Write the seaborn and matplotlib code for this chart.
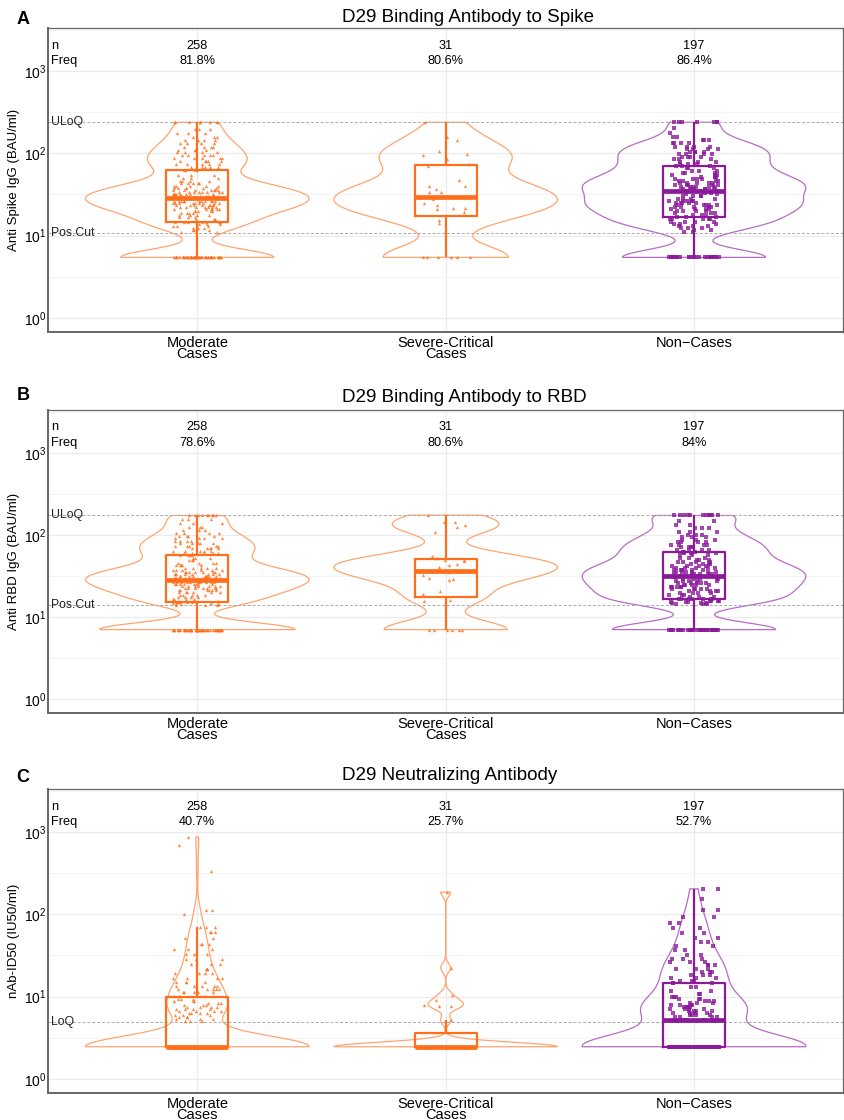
import numpy as np
import pandas as pd
import matplotlib
matplotlib.use("Agg")
import matplotlib.pyplot as plt
import seaborn as sns

# categories shared by all three panels
groups = ["Moderate\nCases", "Severe-Critical\nCases", "Non\u2212Cases"]
n_text = ["258", "31", "197"]

spike_mod_lv = [0.734, 1.045, 1.07, 1.095, 1.12, 1.14, 1.16, 1.17, 1.195, 1.22, 1.245, 1.27, 1.295,
                1.32, 1.345, 1.37, 1.395, 1.425, 1.455, 1.48, 1.505, 1.53, 1.555, 1.58, 1.605, 1.635,
                1.665, 1.70, 1.74, 1.80, 1.835, 1.87, 1.905, 1.94, 1.975, 2.01, 2.045, 2.08, 2.12,
                2.16, 2.20, 2.25, 2.30, 2.377]
spike_mod_ct = [47, 2, 3, 3, 3, 3, 3, 4, 3, 3, 4, 4, 5, 6, 7, 8, 9, 11, 4, 10, 9, 8, 7, 6, 5, 5,
                4, 3, 3, 4, 5, 5, 5, 5, 5, 4, 4, 4, 4, 4, 3, 3, 3, 8]
spike_sev = [0.734] * 6 + [1.151, 1.192, 1.289, 1.321, 1.330, 1.333, 1.375, 1.399, 1.45, 1.47, 1.524,
                           1.533, 1.569, 1.597, 1.606, 1.679, 1.844, 1.873, 1.934, 1.983, 1.995, 2.027,
                           2.157, 2.197, 2.377]
spike_non_lv = [0.734, 1.045, 1.07, 1.095, 1.12, 1.145, 1.17, 1.195, 1.224, 1.25, 1.275, 1.30, 1.325,
                1.35, 1.375, 1.40, 1.425, 1.45, 1.475, 1.50, 1.52, 1.54, 1.565, 1.59, 1.615, 1.64,
                1.665, 1.69, 1.715, 1.74, 1.765, 1.79, 1.82, 1.845, 1.87, 1.90, 1.93, 1.96, 1.99,
                2.02, 2.05, 2.08, 2.12, 2.16, 2.20, 2.25, 2.31, 2.377]
spike_non_ct = [27, 2, 2, 3, 3, 3, 4, 5, 3, 3, 3, 4, 4, 5, 5, 5, 5, 4, 4, 2, 2, 3, 6, 6, 5, 5,
                4, 4, 4, 3, 3, 3, 3, 3, 3, 3, 3, 4, 4, 4, 4, 4, 4, 3, 2, 1, 1, 7]
spike_freq = ["81.8%", "80.6%", "86.4%"]
spike_refs = [("ULoQ", 2.377), ("Pos.Cut", 1.035)]

# ---- B: D29 anti-RBD IgG, log10(BAU/ml) ----
rbd_mod_lv = [0.848, 1.152, 1.16, 1.17, 1.181, 1.20, 1.225, 1.25, 1.275, 1.30, 1.325, 1.35, 1.375,
              1.40, 1.43, 1.456, 1.475, 1.50, 1.525, 1.55, 1.575, 1.60, 1.63, 1.66, 1.69, 1.725,
              1.756, 1.78, 1.81, 1.84, 1.87, 1.90, 1.93, 1.96, 1.99, 2.02, 2.06, 2.10, 2.14, 2.19,
              2.237]
rbd_mod_ct = [55, 3, 3, 3, 4, 3, 4, 4, 5, 6, 6, 7, 7, 8, 10, 4, 10, 9, 8, 7, 6, 5, 5, 4, 3, 3,
              4, 5, 5, 5, 5, 5, 4, 4, 4, 4, 3, 3, 3, 3, 9]
rbd_sev = [0.848] * 6 + [1.193, 1.214, 1.283, 1.319, 1.448, 1.468, 1.477, 1.517, 1.545, 1.557, 1.578,
                         1.61, 1.638, 1.65, 1.678, 1.69, 1.70, 1.715, 1.748, 2.04, 2.10, 2.12, 2.152,
                         2.16, 2.241]
rbd_non_lv = [0.848, 1.155, 1.17, 1.185, 1.20, 1.215, 1.226, 1.245, 1.27, 1.295, 1.32, 1.345, 1.37,
              1.395, 1.42, 1.445, 1.47, 1.49, 1.505, 1.525, 1.55, 1.575, 1.60, 1.625, 1.65, 1.675,
              1.70, 1.725, 1.75, 1.775, 1.796, 1.82, 1.85, 1.88, 1.91, 1.94, 1.97, 2.00, 2.04,
              2.08, 2.12, 2.17, 2.237]
rbd_non_ct = [32, 3, 3, 3, 4, 4, 3, 3, 3, 4, 4, 5, 5, 5, 5, 5, 4, 3, 3, 6, 6, 5, 5, 4, 4, 4,
              3, 3, 3, 3, 3, 4, 4, 4, 4, 3, 3, 3, 3, 3, 2, 2, 12]
rbd_freq = ["78.6%", "80.6%", "84%"]
rbd_refs = [("ULoQ", 2.237), ("Pos.Cut", 1.149)]

# ---- C: D29 neutralizing antibody, log10(IU50/ml) ----
nab_mod_lv = [0.389, 0.70, 0.725, 0.75, 0.775, 0.80, 0.825, 0.85, 0.875, 0.90, 0.925, 0.95, 0.97,
              1.01, 1.05, 1.09, 1.13, 1.18, 1.23, 1.28, 1.34, 1.40, 1.46, 1.52, 1.58, 1.64, 1.71,
              1.78, 1.85, 2.007, 2.05, 2.53, 2.84, 2.94]
nab_mod_ct = [153, 3, 3, 3, 3, 4, 4, 4, 4, 3, 3, 3, 3, 5, 5, 5, 5, 4, 4, 4, 4, 3, 3, 3, 3, 3, 2,
              3, 3, 1, 2, 1, 1, 1]
nab_sev = [0.389] * 23 + [0.713, 0.883, 0.89, 0.90, 0.956, 1.02, 1.35, 2.27]
nab_non_lv = [0.389, 0.70, 0.72, 0.745, 0.77, 0.795, 0.82, 0.845, 0.87, 0.895, 0.92, 0.945, 0.97,
              0.995, 1.03, 1.07, 1.11, 1.16, 1.19, 1.22, 1.26, 1.30, 1.34, 1.38, 1.42, 1.46, 1.51,
              1.56, 1.61, 1.66, 1.71, 1.77, 1.83, 1.90, 1.97, 2.05, 2.18, 2.31]
nab_non_ct = [93, 5, 3, 4, 4, 4, 4, 4, 4, 4, 3, 3, 3, 3, 2, 2, 2, 3, 3, 3, 3, 3, 3, 3, 3, 3, 2,
              2, 2, 2, 2, 2, 2, 2, 2, 2, 1, 2]
nab_freq = ["40.7%", "25.7%", "52.7%"]
nab_refs = [("LoQ", 0.69)]

point_cols = ["#FF6F1B", "#FF6F1B", "#8B1A9B"]
violin_cols = ["#FFA46F", "#FFA46F", "#B86BC6"]
markers = ["^", "^", "s"]
marker_sizes = [2.4, 2.4, 2.25]

plt.rcParams["font.family"] = ["Liberation Sans", "DejaVu Sans"]
plt.rcParams["mathtext.fontset"] = "custom"
plt.rcParams["mathtext.rm"] = "Liberation Sans"
plt.rcParams["mathtext.it"] = "Liberation Sans:italic"
plt.rcParams["mathtext.bf"] = "Liberation Sans:bold"


def nrd0(kde):
    # R's bw.nrd0, returned as a factor of the sample sd for gaussian_kde
    x = kde.dataset[0]
    sd = x.std(ddof=1)
    q75, q25 = np.percentile(x, [75, 25])
    lo = min(sd, (q75 - q25) / 1.34) or sd
    return 0.9 * lo * len(x) ** -0.2 / sd


def make_df(mod_lv, mod_ct, sev, non_lv, non_ct):
    vals = [np.repeat(mod_lv, mod_ct), np.asarray(sev, float), np.repeat(non_lv, non_ct)]
    return pd.DataFrame({
        "group": np.concatenate([[g] * len(v) for g, v in zip(groups, vals)]),
        "val": np.concatenate(vals),
    })


def draw_panel(ax, df, ylabel, freq, refs, bw_adj):
    sns.violinplot(data=df, x="group", y="val", hue="group", order=groups, hue_order=groups,
                   palette=violin_cols, fill=False, inner=None, cut=0, density_norm="width",
                   width=0.9, gridsize=512, bw_method=nrd0, bw_adjust=bw_adj, linewidth=0.9,
                   legend=False, ax=ax)
    sns.boxplot(data=df, x="group", y="val", hue="group", order=groups, hue_order=groups,
                palette=point_cols, fill=False, width=0.25, showfliers=False, showcaps=False,
                linewidth=1.6, medianprops={"linewidth": 3.4}, legend=False, ax=ax)
    for g, c, m, s in zip(groups, point_cols, markers, marker_sizes):
        sns.stripplot(data=df[df["group"] == g], x="group", y="val", order=groups, color=c,
                      marker=m, size=s, jitter=0.1, alpha=0.8, linewidth=0, zorder=4, ax=ax)

    for name, y in refs:
        ax.axhline(y, color="#AAAAAA", ls=(0, (3, 2)), lw=0.7, zorder=1)
        ax.text(-0.59, y, name, ha="left", va="center", fontsize=8.8, color="#222222")

    ax.text(-0.59, 3.31, "n", ha="left", va="center", fontsize=9.2)
    ax.text(-0.59, 3.12, "Freq", ha="left", va="center", fontsize=9.2)
    for i in range(len(groups)):
        ax.text(i, 3.31, n_text[i], ha="center", va="center", fontsize=9.2)
        ax.text(i, 3.12, freq[i], ha="center", va="center", fontsize=9.2)

    ax.set_xlim(-0.6, 2.6)
    ax.set_ylim(-0.17, 3.52)
    ax.set_yticks([0, 1, 2, 3])
    ax.set_yticklabels([r"$\mathregular{10^{%d}}$" % k for k in range(4)])
    ax.set_yticks([0.5, 1.5, 2.5, 3.5], minor=True)
    ax.grid(True, which="major", color="#EBEBEB", lw=0.9)
    ax.grid(True, which="minor", axis="y", color="#F2F2F2", lw=0.6)
    ax.set_axisbelow(True)
    ax.set_xlabel("")
    ax.set_ylabel(ylabel, fontsize=9.5, labelpad=3)
    ax.tick_params(axis="y", which="both", length=0, pad=1, labelsize=10)
    ax.tick_params(axis="x", length=0, pad=3, labelsize=10.5)
    for lbl in ax.get_xticklabels():
        lbl.set_linespacing(0.72)
    for side in ["top", "right"]:
        ax.spines[side].set_color("#666666")
        ax.spines[side].set_linewidth(0.9)
    for side in ["left", "bottom"]:
        ax.spines[side].set_color("#666666")
        ax.spines[side].set_linewidth(1.4)


W, H = 844, 1120
fig = plt.figure(figsize=(W / 100, H / 100), dpi=100)
np.random.seed(7)

panels = [
    (make_df(spike_mod_lv, spike_mod_ct, spike_sev, spike_non_lv, spike_non_ct),
     "D29 Binding Antibody to Spike", "A", "Anti Spike IgG (BAU/ml)", spike_freq, spike_refs,
     0.7, 28.3, 331.7, 18, 20),
    (make_df(rbd_mod_lv, rbd_mod_ct, rbd_sev, rbd_non_lv, rbd_non_ct),
     "D29 Binding Antibody to RBD", "B", "Anti RBD IgG (BAU/ml)", rbd_freq, rbd_refs,
     0.7, 410.0, 713.3, 397, 395),
    (make_df(nab_mod_lv, nab_mod_ct, nab_sev, nab_non_lv, nab_non_ct),
     "D29 Neutralizing Antibody", "C", "nAb-ID50 (IU50/ml)", nab_freq, nab_refs,
     1.0, 789.3, 1092.7, 775, 777),
]

left, right = 48.3, 843.0
for df, title, letter, ylabel, freq, refs, bw_adj, top, bot, ty, ly in panels:
    ax = fig.add_axes([left / W, 1 - bot / H, (right - left) / W, (bot - top) / H])
    draw_panel(ax, df, ylabel, freq, refs, bw_adj)
    fig.text(342 / W, 1 - ty / H, title, ha="left", va="center", fontsize=13.5)
    fig.text(23 / W, 1 - ly / H, letter, ha="center", va="center", fontsize=13, fontweight="bold")

fig.savefig("out.png", dpi=100)
